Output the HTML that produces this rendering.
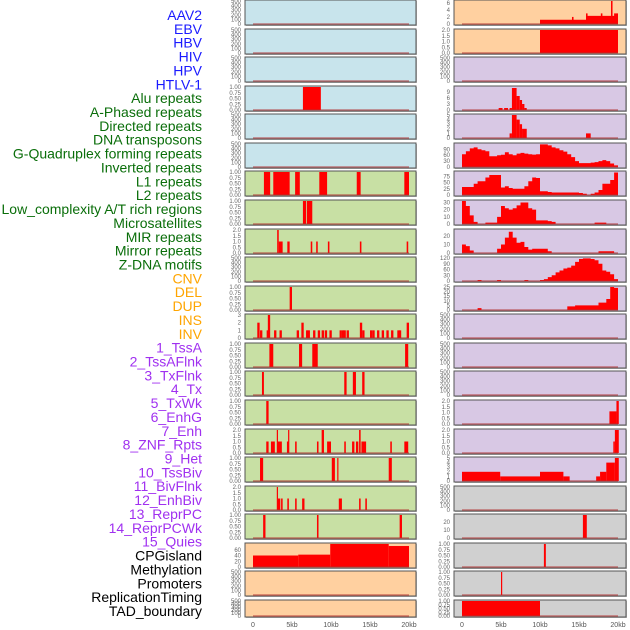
<!DOCTYPE html>
<html><head><meta charset="utf-8"><style>
body{margin:0;background:#fff;width:630px;height:630px;overflow:hidden;font-family:"Liberation Sans",sans-serif}
svg{display:block}
</style></head><body>
<svg id="chart" width="630" height="630" viewBox="0 0 630 630" xmlns="http://www.w3.org/2000/svg"></svg>
<script>
const labels=["AAV2","EBV","HBV","HIV","HPV","HTLV-1","Alu repeats","A-Phased repeats","Directed repeats","DNA transposons","G-Quadruplex forming repeats","Inverted repeats","L1 repeats","L2 repeats","Low_complexity A/T rich regions","Microsatellites","MIR repeats","Mirror repeats","Z-DNA motifs","CNV","DEL","DUP","INS","INV","1_TssA","2_TssAFlnk","3_TxFlnk","4_Tx","5_TxWk","6_EnhG","7_Enh","8_ZNF_Rpts","9_Het","10_TssBiv","11_BivFlnk","12_EnhBiv","13_ReprPC","14_ReprPCWk","15_Quies","CPGisland","Methylation","Promoters","ReplicationTiming","TAD_boundary"];
const labelGroups=[6,13,5,15,5];
const groupColors=["#1a1aff","#0a6e0a","#ffa500","#a030f0","#000000"];
const xTicks=[0,5,10,15,20];
const xTickLabels=["0","5kb","10kb","15kb","20kb"];
const T500=["0","100","200","300","400","500"], T1=["0.00","0.25","0.50","0.75","1.00"], T2=["0.0","0.5","1.0","1.5","2.0"];
// left panel segments [startKb,endKb,value]
const L_p3=[[6.4,8.7,1]];
const L_p6=[[1.4,2.2,1],[2.6,4.7,1],[5.4,6.0,1],[8.5,9.5,1],[13.3,13.8,1],[19.4,20.0,1]];
const L_p7=[[6.4,6.8,1],[6.9,7.6,1]];
const L_p8=[[3.1,3.3,2],[3.3,3.8,1],[4.4,4.7,1],[7.4,7.6,1],[8.1,8.3,1],[9.6,9.8,1],[13.7,13.9,1],[19.7,19.9,1]];
const L_p10=[[4.7,5.0,1]];
const L_p11x=[0.55,0.9,1.75,1.9,2.7,3.4,5.6,6.2,6.8,7.0,7.7,8.3,8.8,9.2,9.8,11.1,11.4,11.6,12.0,13.7,14.0,15.0,15.3,15.9,16.5,17.1,17.7,18.5,18.7,19.7];
const L_p11v=[2,1,1,3,1,1,1,2,1,1,1,1,1,1,1,1,1,1,1,2,1,1,1,1,1,1,1,1,1,2];
const L_p12=[[2.1,2.6,1],[5.9,6.3,1],[7.6,8.3,1],[19.5,19.9,1]];
const L_p13=[[1.15,1.4,1],[11.7,12.0,1],[12.8,13.2,1],[14.0,14.3,1]];
const L_p14=[[1.7,2.0,1]];
const L_p15=[[1.7,2.0,1],[2.3,2.8,1],[3.05,3.2,2],[3.2,3.7,1],[4.35,4.6,1],[4.5,4.6,2],[5.4,5.6,1],[8.2,8.4,1],[8.8,9.1,2],[9.5,10.0,1],[11.7,11.9,1],[12.7,13.0,1],[13.2,13.5,1],[13.6,13.8,2],[13.9,14.5,1],[17.6,17.8,1],[19.4,19.9,1]];
const L_p16=[[0.9,1.3,1],[10.1,10.5,1],[10.8,10.95,1],[17.4,17.8,1]];
const L_p17=[[3.05,3.2,2],[3.2,3.5,1],[3.6,3.8,1],[4.4,4.6,1],[5.4,5.6,1],[6.3,6.6,1],[11.0,11.4,1],[13.6,13.8,1],[14.4,14.6,1]];
const L_p18=[[1.3,1.6,1],[8.2,8.4,1],[18.8,19.1,1]];
const L_p19=[[0,5.8,40],[5.8,9.9,43],[9.9,17.4,80],[17.4,20.0,73]];
// right panel segments
const R_p0=[[10,15.9,1.2],[15.9,20,2.3],[14.1,14.3,2],[15.9,16.1,3],[17.8,18.0,3],[19.1,19.3,6.5],[19.5,20,3]];
const R_p1=[[10,20,2]];
const R_p3=[[4.7,5.2,1],[5.4,5.9,1],[6.1,6.4,1],[6.4,7.0,11],[7.0,7.4,7],[7.4,7.7,5],[7.7,8.0,3],[8.0,8.3,1]];
const R_p4=[[6.1,6.4,1],[6.4,7.0,5],[7.0,7.4,4],[7.4,7.7,3],[7.7,8.3,2],[15.9,16.5,1]];
// right panel profiles, 0.5kb bins from 0 to 20kb
const R_p5=[65,80,95,100,90,85,80,55,55,60,62,75,65,60,68,72,68,65,63,65,115,115,110,100,95,85,78,65,50,30,20,20,20,22,25,30,35,30,18,8];
const R_p6=[32,32,32,45,55,55,70,80,80,80,30,35,28,25,25,25,35,55,70,68,15,15,12,10,10,10,10,10,10,10,8,5,0,5,10,20,45,45,60,90];
const R_p7=[32,25,12,3,0,0,2,2,2,10,25,22,20,22,26,30,30,22,20,5,5,5,4,3,0,0,0,0,0,0,0,0,0,0,2,2,2,0,0,0];
const R_p8=[10,8,3,0,0,0,0,0,0,5,10,18,25,18,12,13,7,4,5,5,5,5,2,0,0,0,0,0,0,0,0,0,0,0,0,2,2,2,2,0];
const R_p9=[0,0,0,0,5,0,0,0,0,5,0,0,0,0,0,0,5,0,0,0,5,10,20,30,45,55,65,70,80,100,115,118,118,115,108,90,55,48,35,10];
const R_p10=[0,0,0,0,2,0,0,0,0,0,0,0,0,0,0,0,0,0,0,0,0,0,0,0,0,0,0,4,4,5,5,5,5,5,5,8,8,12,25,24];
const R_p14=[[18.9,19.8,1.1],[19.8,20.1,2]];
const R_p15=[[19.4,19.6,1],[19.6,20.1,2]];
const R_p16=[[0,4.9,2],[4.9,10,1],[10,13,2],[13,13.8,1],[17.2,17.7,1],[17.7,18.5,2],[18.5,19.6,4],[19.6,20.1,5]];
const R_p18=[[15.5,16.0,40]];
const R_p19=[[10.5,10.75,1]];
const R_p20=[[5.0,5.15,1]];
const R_p21=[[0,10,1]];

const leftPanels=[
 [null,500,T500],[null,500,T500],[null,500,T500],[L_p3,1,T1],[null,500,T500],[null,500,T500],
 [L_p6,1,T1],[L_p7,1,T1],[L_p8,2,T2],[null,500,T500],[L_p10,1,T1],["L11",3,["0","1","2","3"]],
 [L_p12,1,T1],[L_p13,1,T1],[L_p14,1,T1],[L_p15,2,T2],[L_p16,1,T1],[L_p17,2,T2],[L_p18,1,T1],
 [L_p19,80,["0","20","40","60"]],[null,500,T500],[null,500,T500]];
const rightPanels=[
 [R_p0,6.5,["0","2","4","6"]],[R_p1,2,T2],[null,500,T500],[R_p3,11.5,["0","3","6","9"]],[R_p4,5,["0","1","2","3","4","5"]],
 [R_p5,117,["0","30","60","90"]],[R_p6,92,["0","25","50","75"]],[R_p7,32,["0","10","20","30"]],[R_p8,27,["0","10","20"]],
 [R_p9,120,["0","30","60","90","120"]],[R_p10,25,["0","5","10","15","20","25"]],[null,500,T500],[null,500,T500],[null,500,T500],
 [R_p14,2,T2],[R_p15,2,T2],[R_p16,5,["0","1","2","3","4","5"]],[null,500,T500],[R_p18,29,["0","10","20"]],
 [R_p19,1,T1],[R_p20,1,T1],[R_p21,1,T1]];
const leftColors=[0,0,0,0,0,0,1,1,1,1,1,1,1,1,1,1,1,1,1,2,2,2];
const rightColors=[2,2,3,3,3,3,3,3,3,3,3,3,3,3,3,3,3,4,4,4,4,4];
const bgColors=["#c8e4ec","#c8e0a4","#ffd0a0","#d8c8e4","#d0d0d0"];

const NS="http://www.w3.org/2000/svg";
const svg=document.getElementById('chart');
function mk(tag,attrs,parent){const e=document.createElementNS(NS,tag);for(const k in attrs)e.setAttribute(k,attrs[k]);(parent||svg).appendChild(e);return e;}

// labels
let li=0;
labelGroups.forEach((n,g)=>{for(let k=0;k<n;k++){const t=mk('text',{x:202,y:15+li*13.86+5,'text-anchor':'end','font-size':'14',fill:groupColors[g]});
 
 
 t.textContent=labels[li];li++;}});

function drawPanel(p,i,side){
 const [data,ymax,ticks]=p;
 const x0=side?454:245, w=side?172:171, ox=side?462:253, kx=7.8;
 const top=Math.round(i*28.57), h=(i===21)?17:25, bot=top+h;
 const xs=kb=>ox+kb*kx;
 const ys=v=>bot-1-Math.min(v,ymax)/ymax*(h-2);
 const g=mk('g',{});
 
 
 mk('rect',{x:x0+1,y:top+1,width:w,height:h,fill:'#bbb'},g);
 const cIdx=side?rightColors[i]:leftColors[i];
 mk('rect',{x:x0,y:top,width:w,height:h,fill:bgColors[cIdx],stroke:'#555','stroke-width':1},g);
 ticks.forEach(t=>{const tt=mk('text',{x:x0-4,y:ys(parseFloat(t))+2,'text-anchor':'end','font-size':'6',fill:'#666'},g);
  
  
  tt.textContent=t;});
 if(data==="L11"){L_p11x.forEach((x,k)=>{const r=mk('rect',{x:xs(x),y:ys(L_p11v[k]),width:0.3*kx,height:bot-1-ys(L_p11v[k]),fill:'#ff0000'},g);
   
   });}
 else if(data&&typeof data[0]==='number'){let d='M'+xs(0)+','+ys(0);
  data.forEach((v,k)=>{d+=' L'+xs(k*0.5)+','+ys(v)+' L'+xs((k+1)*0.5)+','+ys(v);});
  d+=' L'+xs(20)+','+ys(0)+'Z';
  const pa=mk('path',{d:d,fill:'#ff0000'},g);
  
  }
 else if(data){data.forEach(s=>{const r=mk('rect',{x:xs(s[0]),y:ys(s[2]),width:Math.max(1.2,(s[1]-s[0])*kx),height:bot-1-ys(s[2]),fill:'#ff0000'},g);
   
   });}
 const bl=mk('line',{x1:xs(0),x2:xs(20),y1:bot-1,y2:bot-1,stroke:'#b03030','stroke-opacity':0.6,'stroke-width':1.5},g);
 
 
}
leftPanels.forEach((p,i)=>drawPanel(p,i,0));
rightPanels.forEach((p,i)=>drawPanel(p,i,1));
[253,462].forEach(ox=>{xTicks.forEach((t,k)=>{const tt=mk('text',{x:ox+t*7.8,y:627,'text-anchor':'middle','font-size':'7',fill:'#555'});
 
 
 tt.textContent=xTickLabels[k];});});
</script>
</body></html>
